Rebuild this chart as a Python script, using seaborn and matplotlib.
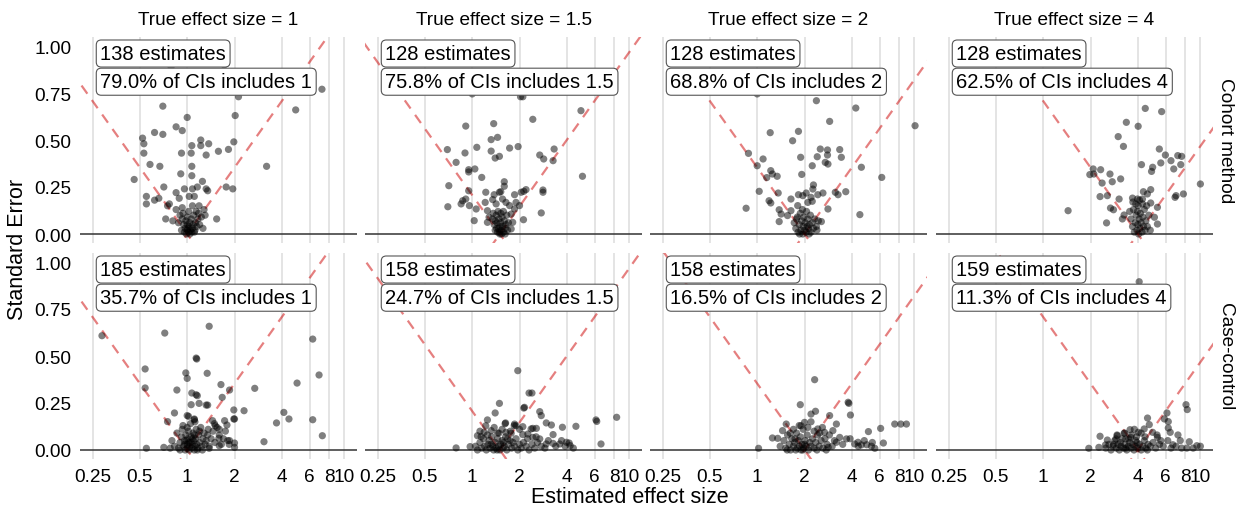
import numpy as np
import pandas as pd
import matplotlib; matplotlib.use('Agg')
import matplotlib.pyplot as plt
import seaborn as sns

# facets
methods      = ['Cohort method', 'Case-control']
true_effects = [1, 1.5, 2, 4]
n_estimates  = [[138, 128, 128, 128], [185, 158, 158, 159]]
pct_covered  = [[79.0, 75.8, 68.8, 62.5], [35.7, 24.7, 16.5, 11.3]]
x_breaks     = [0.25, 0.5, 1, 2, 4, 6, 8, 10]
x_labels     = ['0.25', '0.5', '1', '2', '4', '6', '8', '10']
y_breaks     = [0.0, 0.25, 0.5, 0.75, 1.0]
y_labels     = ['0.00', '0.25', '0.50', '0.75', '1.00']

# (estimated effect size, standard error)
cohort_1 = [
    (0.46, 0.29), (0.52, 0.51), (0.53, 0.48), (0.53, 0.43), (0.58, 0.37), (0.62, 0.54),
    (0.70, 0.53), (0.70, 0.68), (0.67, 0.36), (0.55, 0.20), (0.55, 0.16), (0.62, 0.18),
    (0.66, 0.19), (0.71, 0.25), (0.75, 0.15), (0.73, 0.08), (0.81, 0.07), (0.85, 0.57),
    (0.93, 0.55), (1.00, 0.62), (0.92, 0.43), (0.91, 0.32), (1.06, 0.43), (1.07, 0.47),
    (1.07, 0.31), (1.07, 0.36), (1.22, 0.50), (1.22, 0.47), (1.37, 0.48), (1.32, 0.42),
    (1.58, 0.44), (1.83, 0.45), (1.98, 0.49), (2.02, 0.63), (2.12, 0.73), (7.20, 0.77),
    (4.90, 0.66), (3.20, 0.36), (1.77, 0.25), (1.95, 0.24), (1.54, 0.08), (0.79, 0.89),
    (1.72, 0.90), (0.85, 0.22), (0.96, 0.24), (1.08, 0.24), (1.16, 0.25), (1.25, 0.28),
    (1.32, 0.24), (1.03, 0.20), (0.89, 0.19), (1.11, 0.20), (1.35, 0.23), (0.77, 0.16),
    (0.85, 0.13), (0.93, 0.14), (1.08, 0.15), (1.19, 0.15), (1.28, 0.13),
    (0.90, 0.10), (0.93, 0.08), (0.95, 0.05), (0.97, 0.03), (0.98, 0.07), (1.00, 0.02),
    (1.00, 0.05), (1.00, 0.09), (1.02, 0.01), (1.03, 0.04), (1.04, 0.06), (1.05, 0.02),
    (1.06, 0.08), (1.08, 0.03), (1.09, 0.05), (1.10, 0.10), (1.12, 0.02), (1.13, 0.06),
    (1.15, 0.04), (1.17, 0.08), (1.18, 0.11), (0.96, 0.01), (0.99, 0.00), (1.01, 0.03),
    (1.04, 0.00), (1.07, 0.01), (1.11, 0.01), (0.94, 0.11), (1.02, 0.12), (1.14, 0.12),
    (1.20, 0.05), (1.23, 0.09), (0.88, 0.06), (0.92, 0.02), (1.26, 0.03), (1.30, 0.10),
]
cohort_15 = [
    (1.00, 0.745), (2.03, 0.73), (2.10, 0.73), (2.43, 0.61), (4.92, 0.656), (5.03, 0.307),
    (1.37, 0.587), (0.91, 0.574), (1.32, 0.502), (1.45, 0.514), (1.07, 0.461), (1.32, 0.441),
    (1.73, 0.457), (1.96, 0.465), (0.695, 0.449), (0.90, 0.431), (0.79, 0.381), (1.40, 0.404),
    (1.49, 0.413), (2.69, 0.42), (2.85, 0.399), (3.32, 0.452), (3.27, 0.39), (0.95, 0.342),
    (0.95, 0.33), (1.04, 0.346), (1.15, 0.301), (0.71, 0.257), (0.95, 0.23), (1.60, 0.278),
    (1.60, 0.254), (1.22, 0.222), (1.49, 0.222), (1.52, 0.225), (1.38, 0.209), (2.05, 0.222),
    (2.13, 0.227), (2.20, 0.236), (1.86, 0.209), (2.82, 0.234), (2.82, 0.222), (0.87, 0.177),
    (0.91, 0.186), (0.96, 0.151), (1.06, 0.133), (0.70, 0.145), (0.85, 0.16), (1.21, 0.168),
    (1.35, 0.183), (1.42, 0.16), (1.56, 0.186), (1.73, 0.151), (1.64, 0.168), (1.90, 0.168),
    (1.86, 0.133), (2.00, 0.151), (2.12, 0.076), (2.75, 0.112), (1.03, 0.071), (1.25, 0.124),
    (1.28, 0.089), (1.25, 0.062), (1.77, 0.106), (1.81, 0.062), (1.77, 0.027),
    (1.35, 0.08), (1.38, 0.05), (1.40, 0.02), (1.42, 0.10), (1.44, 0.06), (1.45, 0.01),
    (1.47, 0.03), (1.48, 0.08), (1.50, 0.04), (1.50, 0.00), (1.52, 0.06), (1.53, 0.02),
    (1.55, 0.09), (1.56, 0.04), (1.58, 0.01), (1.60, 0.07), (1.62, 0.03), (1.64, 0.05),
    (1.66, 0.10), (1.68, 0.02), (1.43, 0.03), (1.49, 0.01), (1.54, 0.00), (1.46, 0.12),
    (1.58, 0.12), (1.70, 0.06), (1.40, 0.07), (1.36, 0.11), (1.52, 0.11), (1.62, 0.00),
]
cohort_2 = [
    (1.00, 0.745), (2.38, 0.709), (4.24, 0.67), (10.1, 0.576), (2.89, 0.599), (1.21, 0.539),
    (1.83, 0.546), (1.68, 0.496), (2.52, 0.452), (2.80, 0.447), (3.35, 0.449), (1.89, 0.408),
    (2.41, 0.411), (2.80, 0.42), (3.43, 0.408), (0.88, 0.429), (1.09, 0.399), (1.00, 0.363),
    (2.24, 0.363), (2.71, 0.381), (2.82, 0.372), (4.60, 0.355), (6.20, 0.301), (1.22, 0.337),
    (1.25, 0.319), (1.34, 0.307), (1.15, 0.30), (1.92, 0.317), (1.03, 0.227), (1.36, 0.218),
    (2.28, 0.261), (2.26, 0.239), (1.83, 0.209), (2.05, 0.218), (1.95, 0.204), (2.20, 0.195),
    (2.43, 0.209), (2.62, 0.218), (3.14, 0.222), (3.27, 0.209), (3.66, 0.225), (0.85, 0.137),
    (1.19, 0.177), (1.22, 0.165), (1.38, 0.129), (1.42, 0.106), (1.64, 0.186), (1.81, 0.151),
    (2.10, 0.168), (2.24, 0.174), (2.82, 0.133), (4.50, 0.103), (1.38, 0.066), (1.56, 0.098),
    (1.64, 0.124), (2.56, 0.066), (2.40, 0.021),
    (1.72, 0.06), (1.76, 0.03), (1.80, 0.09), (1.82, 0.01), (1.85, 0.05), (1.88, 0.11),
    (1.90, 0.02), (1.92, 0.07), (1.95, 0.00), (1.96, 0.04), (1.98, 0.09), (2.00, 0.02),
    (2.02, 0.06), (2.05, 0.01), (2.08, 0.04), (2.10, 0.08), (2.12, 0.03), (2.15, 0.05),
    (2.18, 0.10), (2.20, 0.01), (2.24, 0.06), (2.28, 0.03), (2.32, 0.08), (2.38, 0.04),
    (2.45, 0.07), (1.94, 0.13), (2.06, 0.12), (1.86, 0.00), (2.14, 0.00), (1.78, 0.08),
]
cohort_4 = [
    (4.46, 0.668), (5.67, 0.651), (3.38, 0.594), (4.02, 0.573), (3.00, 0.518), (3.24, 0.466),
    (5.48, 0.452), (5.99, 0.42), (7.18, 0.417), (7.60, 0.413), (4.22, 0.369), (5.60, 0.378),
    (6.50, 0.39), (7.50, 0.369), (4.89, 0.333), (4.97, 0.355), (6.77, 0.346), (10.0, 0.266),
    (2.08, 0.346), (2.32, 0.342), (2.10, 0.319), (1.98, 0.316), (2.66, 0.319), (2.75, 0.278),
    (2.37, 0.271), (3.11, 0.293), (1.44, 0.124), (2.30, 0.199), (2.56, 0.204), (2.68, 0.138),
    (2.80, 0.129), (3.04, 0.186), (2.53, 0.059), (3.27, 0.101), (3.70, 0.191), (3.98, 0.186),
    (4.34, 0.225), (4.83, 0.236), (4.60, 0.213), (4.28, 0.186), (4.83, 0.165), (5.33, 0.142),
    (7.00, 0.204), (7.80, 0.213), (6.90, 0.195), (3.19, 0.08), (5.10, 0.089), (5.33, 0.053),
    (3.55, 0.12), (3.62, 0.08), (3.70, 0.04), (3.75, 0.13), (3.80, 0.01), (3.85, 0.06),
    (3.90, 0.10), (3.95, 0.02), (4.00, 0.05), (4.02, 0.15), (4.05, 0.00), (4.08, 0.08),
    (4.12, 0.03), (4.15, 0.11), (4.20, 0.06), (4.25, 0.01), (4.30, 0.09), (4.35, 0.04),
    (4.40, 0.13), (4.45, 0.02), (4.50, 0.07), (4.60, 0.04), (4.70, 0.10), (4.80, 0.02),
    (3.88, 0.16), (4.10, 0.18), (3.98, 0.12), (4.28, 0.16), (3.72, 0.17), (4.55, 0.15),
]
casecontrol_1 = [
    (0.287, 0.608), (0.72, 0.622), (1.38, 0.658), (0.54, 0.431), (0.54, 0.33), (1.14, 0.489),
    (1.15, 0.484), (0.98, 0.41), (1.00, 0.381), (1.34, 0.408), (6.29, 0.59), (6.90, 0.399),
    (5.00, 0.356), (2.69, 0.328), (1.64, 0.348), (1.67, 0.28), (1.86, 0.319), (1.07, 0.303),
    (1.14, 0.294), (1.16, 0.289), (0.86, 0.319), (1.06, 0.241), (1.19, 0.248), (1.35, 0.239),
    (1.02, 0.179), (0.83, 0.197), (1.11, 0.161), (1.98, 0.213), (2.30, 0.209), (1.98, 0.165),
    (4.12, 0.20), (4.44, 0.165), (3.70, 0.144), (6.29, 0.161), (7.24, 0.076), (3.08, 0.044),
    (0.55, 0.009), (1.45, 0.156), (1.51, 0.129), (1.73, 0.156), (1.79, 0.133), (0.75, 0.151),
    (1.59, 0.062), (1.81, 0.05), (2.00, 0.037), (2.00, 0.014), (1.60, 0.023), (1.38, 0.009),
    (0.71, 0.014), (1.00, 0.183), (1.11, 0.165), (1.32, 0.239), (2.00, 0.165),
    (0.80, 0.05), (0.83, 0.02), (0.86, 0.09), (0.88, 0.01), (0.90, 0.04), (0.92, 0.07),
    (0.93, 0.11), (0.95, 0.02), (0.96, 0.05), (0.97, 0.00), (0.98, 0.08), (1.00, 0.01),
    (1.00, 0.03), (1.01, 0.06), (1.02, 0.10), (1.03, 0.00), (1.04, 0.02), (1.05, 0.04),
    (1.06, 0.07), (1.07, 0.01), (1.08, 0.03), (1.09, 0.09), (1.10, 0.05), (1.11, 0.00),
    (1.12, 0.02), (1.13, 0.06), (1.14, 0.11), (1.15, 0.03), (1.17, 0.01), (1.18, 0.08),
    (1.20, 0.04), (1.22, 0.12), (1.24, 0.02), (1.26, 0.06), (1.28, 0.09), (1.30, 0.03),
    (1.32, 0.05), (1.35, 0.08), (1.38, 0.02), (1.42, 0.06), (1.46, 0.10), (1.50, 0.04),
    (1.55, 0.12), (1.60, 0.08), (1.65, 0.03), (1.70, 0.06), (1.75, 0.10), (1.85, 0.03),
    (0.94, 0.13), (1.00, 0.12), (1.05, 0.14), (1.12, 0.15), (0.78, 0.01), (0.90, 0.00),
    (1.16, 0.00), (1.25, 0.00), (0.99, 0.05), (1.03, 0.04), (1.08, 0.06), (0.96, 0.03),
    (1.11, 0.08), (1.20, 0.10), (1.36, 0.11), (1.49, 0.14), (1.60, 0.11), (1.86, 0.05),
]
casecontrol_15 = [
    (1.95, 0.422), (2.30, 0.303), (2.40, 0.303), (2.13, 0.223), (1.40, 0.197), (2.69, 0.204),
    (2.75, 0.183), (1.63, 0.144), (1.25, 0.16), (1.22, 0.129), (1.86, 0.138), (2.10, 0.124),
    (2.43, 0.115), (2.96, 0.144), (3.19, 0.133), (4.57, 0.126), (6.13, 0.16), (6.20, 0.152),
    (8.30, 0.174), (3.75, 0.121), (2.43, 0.067), (3.27, 0.082), (3.70, 0.05), (4.14, 0.037),
    (6.60, 0.032), (0.79, 0.011), (0.97, 0.018), (1.08, 0.076), (1.14, 0.071), (1.19, 0.094),
    (1.32, 0.103), (1.45, 0.09), (1.64, 0.094), (1.77, 0.089), (2.10, 0.082), (2.26, 0.085),
    (2.69, 0.059), (2.96, 0.032), (3.27, 0.035), (3.60, 0.032), (3.98, 0.041), (1.49, 0.248),
    (2.15, 0.227), (1.90, 0.129), (2.37, 0.112), (2.56, 0.115), (4.20, 0.023),
    (1.05, 0.02), (1.08, 0.00), (1.12, 0.04), (1.15, 0.01), (1.18, 0.06), (1.20, 0.02),
    (1.23, 0.00), (1.26, 0.03), (1.28, 0.05), (1.30, 0.01), (1.33, 0.07), (1.35, 0.02),
    (1.37, 0.00), (1.40, 0.04), (1.42, 0.01), (1.45, 0.06), (1.47, 0.02), (1.50, 0.00),
    (1.52, 0.03), (1.55, 0.05), (1.57, 0.01), (1.60, 0.02), (1.63, 0.07), (1.66, 0.00),
    (1.70, 0.03), (1.74, 0.05), (1.78, 0.01), (1.82, 0.04), (1.86, 0.02), (1.90, 0.06),
    (1.95, 0.00), (2.00, 0.03), (2.05, 0.01), (2.12, 0.04), (2.20, 0.02), (2.30, 0.00),
    (2.40, 0.03), (2.50, 0.01), (2.60, 0.04), (2.75, 0.02), (2.90, 0.01), (3.05, 0.05),
    (3.40, 0.02), (3.90, 0.02), (4.40, 0.01), (1.32, 0.03), (1.44, 0.00), (1.58, 0.04),
    (1.25, 0.08), (1.48, 0.09), (1.68, 0.06), (1.38, 0.12), (1.55, 0.11), (1.75, 0.10),
    (2.25, 0.06), (2.55, 0.07), (1.12, 0.10), (1.62, 0.14), (2.00, 0.11), (1.85, 0.13),
]
casecontrol_2 = [
    (2.32, 0.374), (1.88, 0.241), (3.79, 0.254), (3.83, 0.248), (2.20, 0.191), (2.35, 0.206),
    (2.89, 0.183), (3.92, 0.186), (1.53, 0.138), (1.90, 0.129), (2.00, 0.147), (1.45, 0.103),
    (1.35, 0.062), (1.25, 0.064), (1.02, 0.009), (2.43, 0.112), (2.68, 0.094), (3.03, 0.103),
    (3.19, 0.138), (5.10, 0.098), (6.10, 0.115), (7.50, 0.138), (8.20, 0.138), (8.90, 0.138),
    (3.35, 0.067), (3.70, 0.059), (4.17, 0.032), (4.38, 0.041), (4.97, 0.028), (5.60, 0.009),
    (6.35, 0.037), (3.19, 0.041), (2.83, 0.014), (4.60, 0.027), (5.33, 0.02),
    (1.40, 0.02), (1.48, 0.05), (1.52, 0.01), (1.56, 0.08), (1.60, 0.03), (1.63, 0.00),
    (1.66, 0.06), (1.70, 0.02), (1.73, 0.04), (1.76, 0.00), (1.78, 0.09), (1.80, 0.01),
    (1.83, 0.05), (1.86, 0.02), (1.88, 0.07), (1.90, 0.00), (1.93, 0.03), (1.96, 0.11),
    (1.98, 0.01), (2.02, 0.05), (2.05, 0.02), (2.08, 0.08), (2.12, 0.00), (2.16, 0.04),
    (2.20, 0.02), (2.25, 0.06), (2.30, 0.01), (2.36, 0.04), (2.42, 0.08), (2.48, 0.02),
    (2.55, 0.05), (2.62, 0.01), (2.70, 0.06), (2.78, 0.03), (2.88, 0.08), (3.00, 0.02),
    (3.10, 0.05), (3.50, 0.03), (3.90, 0.06), (4.40, 0.02), (4.80, 0.05), (5.40, 0.04),
    (1.70, 0.11), (1.85, 0.13), (2.10, 0.12), (2.30, 0.10), (2.60, 0.12), (1.62, 0.09),
    (1.74, 0.06), (2.00, 0.03), (2.40, 0.00), (2.75, 0.00), (1.95, 0.00), (1.55, 0.00),
    (2.20, 0.15), (2.50, 0.09),
]
casecontrol_4 = [
    (4.08, 0.895), (8.10, 0.241), (8.25, 0.215), (4.61, 0.17), (6.13, 0.197), (5.90, 0.165),
    (6.25, 0.151), (6.25, 0.117), (6.43, 0.094), (7.20, 0.08), (4.73, 0.135), (4.97, 0.094),
    (4.39, 0.112), (3.57, 0.108), (3.27, 0.089), (4.03, 0.094), (2.30, 0.073), (2.56, 0.053),
    (2.90, 0.059), (2.96, 0.076), (1.95, 0.009), (2.26, 0.014), (2.49, 0.027), (5.33, 0.067),
    (5.60, 0.05), (6.20, 0.05), (6.68, 0.028), (7.45, 0.05), (8.50, 0.044), (9.50, 0.023),
    (10.0, 0.02), (3.35, 0.059), (3.60, 0.067), (3.88, 0.05),
    (2.50, 0.01), (2.62, 0.03), (2.70, 0.00), (2.78, 0.02), (2.85, 0.05), (2.92, 0.01),
    (3.00, 0.03), (3.05, 0.00), (3.12, 0.02), (3.18, 0.06), (3.25, 0.01), (3.32, 0.03),
    (3.40, 0.00), (3.48, 0.02), (3.55, 0.04), (3.62, 0.01), (3.70, 0.03), (3.78, 0.00),
    (3.85, 0.02), (3.92, 0.07), (4.00, 0.01), (4.10, 0.03), (4.20, 0.00), (4.30, 0.02),
    (4.40, 0.05), (4.50, 0.01), (4.65, 0.03), (4.80, 0.02), (5.00, 0.04), (5.20, 0.01),
    (5.50, 0.03), (5.80, 0.02), (6.50, 0.01), (7.00, 0.02), (7.60, 0.01), (8.20, 0.01),
    (9.00, 0.01), (2.95, 0.08), (3.30, 0.09), (3.65, 0.08), (4.20, 0.09), (3.80, 0.11),
    (3.10, 0.04), (3.50, 0.06), (4.45, 0.07), (5.30, 0.08), (2.80, 0.03), (3.95, 0.04),
    (4.60, 0.00), (3.35, 0.01),
]

panel_points = [[cohort_1, cohort_15, cohort_2, cohort_4],
                [casecontrol_1, casecontrol_15, casecontrol_2, casecontrol_4]]

frames = []
for m, method in enumerate(methods):
    for t, true_es in enumerate(true_effects):
        pts = np.array(panel_points[m][t])
        frames.append(pd.DataFrame({'method': method, 'true_es': true_es,
                                    'estimate': pts[:, 0], 'se': pts[:, 1]}))
df = pd.concat(frames, ignore_index=True)

sns.set_theme(style='white')
plt.rcParams['font.family'] = ['Liberation Sans', 'DejaVu Sans']
plt.rcParams['text.color'] = 'black'
plt.rcParams['axes.titlecolor'] = 'black'

W, H = 1249, 510
fig = plt.figure(figsize=(W / 100, H / 100), dpi=100)

col_left = [80, 365, 650, 936]
panel_w  = 277
row_top  = [37.6, 253.6]
panel_h  = 206.8
xlim     = (0.208, 12.03)
ylim     = (-0.05, 1.05)

for m, method in enumerate(methods):
    for t, true_es in enumerate(true_effects):
        ax = fig.add_axes([col_left[t] / W, 1 - (row_top[m] + panel_h) / H,
                           panel_w / W, panel_h / H])
        sub = df[(df.method == method) & (df.true_es == true_es)]

        ax.set_xscale('log')
        ax.set_xlim(*xlim); ax.set_ylim(*ylim)
        ax.set_xticks(x_breaks)
        ax.xaxis.set_minor_locator(plt.NullLocator())
        ax.set_yticks(y_breaks)
        ax.grid(axis='x', color='#dcdcdc', lw=1.1)
        ax.grid(axis='y', visible=False)
        ax.set_axisbelow(True)
        for s in ax.spines.values():
            s.set_visible(False)

        ax.axhline(0, color='#333333', lw=1.1, zorder=1)

        # CI boundary: se = +/- log(x / true) / qnorm(0.025)
        xs = np.array([0.1, 20.0])
        lim = np.log(xs / true_es) / 1.96
        for sign in (1, -1):
            ax.plot(xs, sign * lim, color=(0.8, 0, 0), alpha=0.5, lw=1.6,
                    ls=(0, (4.5, 3.5)), zorder=2)

        sns.scatterplot(data=sub, x='estimate', y='se', ax=ax, color='black',
                        alpha=0.5, s=27, edgecolor='none', linewidth=0,
                        legend=False, zorder=3)
        ax.set_xlabel(''); ax.set_ylabel('')

        box = dict(boxstyle='round,pad=0.2,rounding_size=0.25', fc='white',
                   ec='#555555', lw=0.8)
        ax.text(0.28, 0.96, f'{n_estimates[m][t]} estimates', ha='left',
                va='center', fontsize=14.5, color='black', bbox=box, zorder=5)
        ax.text(0.28, 0.81, f'{pct_covered[m][t]:.1f}% of CIs includes {true_es:g}',
                ha='left', va='center', fontsize=14.5, color='black', bbox=box,
                zorder=5)

        ax.tick_params(length=0, pad=6, labelsize=13.7, colors='black')
        if m == 1:
            ax.set_xticklabels(x_labels)
        else:
            ax.set_xticklabels([])
        if t == 0:
            ax.set_yticklabels(y_labels)
        else:
            ax.set_yticklabels([])

        if m == 0:
            ax.set_title(f'True effect size = {true_es:g}', fontsize=13.7, pad=9,
                         color='black')
        if t == 3:
            ax.text(1.045, 0.5, method, transform=ax.transAxes, rotation=270,
                    ha='center', va='center', fontsize=13.7, color='black')

fig.text(18 / W, 1 - 249 / H, 'Standard Error', rotation=90, ha='center',
         va='center', fontsize=15.5, color='black')
fig.text(630 / W, 1 - 498 / H, 'Estimated effect size', ha='center',
         va='center', fontsize=15.5, color='black')

fig.savefig('out.png', dpi=100)
